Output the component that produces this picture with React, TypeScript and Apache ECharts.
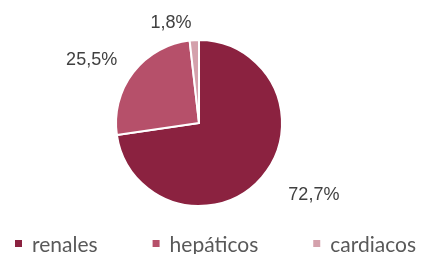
import React, { useEffect, useRef } from "react";
import * as echarts from "echarts";

const categories = ["renales", "hepáticos", "cardiacos"];
const values = [72.7, 25.5, 1.8];
const labels = ["72,7%", "25,5%", "1,8%"];
const colors = ["#8B2240", "#B6506A", "#D4A1AC"];

export default function App() {
  const ref = useRef<HTMLDivElement>(null);
  useEffect(() => {
    const chart = echarts.init(ref.current!, null, { renderer: "svg" });
    const offsets = [
      { dx: 11, dy: 8 },
      { dx: 0, dy: -5 },
      { dx: 3, dy: -4 },
    ];
    chart.setOption({
      animation: false,
      color: colors,
      legend: {
        data: categories,
        left: 8,
        top: 228,
        width: 427,
        icon: "rect",
        itemWidth: 9,
        itemHeight: 9,
        itemGap: 53,
        textStyle: {
          fontFamily: "Lato",
          fontSize: 21,
          color: "#595959",
          padding: [0, 0, 0, 4],
        },
      },
      series: [
        {
          type: "pie",
          center: [199, 123],
          radius: 83,
          startAngle: 90,
          clockwise: true,
          itemStyle: { borderColor: "#fff", borderWidth: 2 },
          label: {
            show: true,
            position: "outside",
            fontFamily: "Liberation Sans",
            fontSize: 18,
            color: "#404040",
            formatter: (p: any) => labels[p.dataIndex],
          },
          labelLine: { show: false, length: 14, length2: 0 },
          labelLayout: (p: any) => offsets[p.dataIndex],
          data: categories.map((c, i) => ({ name: c, value: values[i] })),
        },
      ],
    });
    return () => chart.dispose();
  }, []);
  return (
    <div
      ref={ref}
      style={{ position: "fixed", left: 0, top: 0, width: 427, height: 254 }}
    />
  );
}
